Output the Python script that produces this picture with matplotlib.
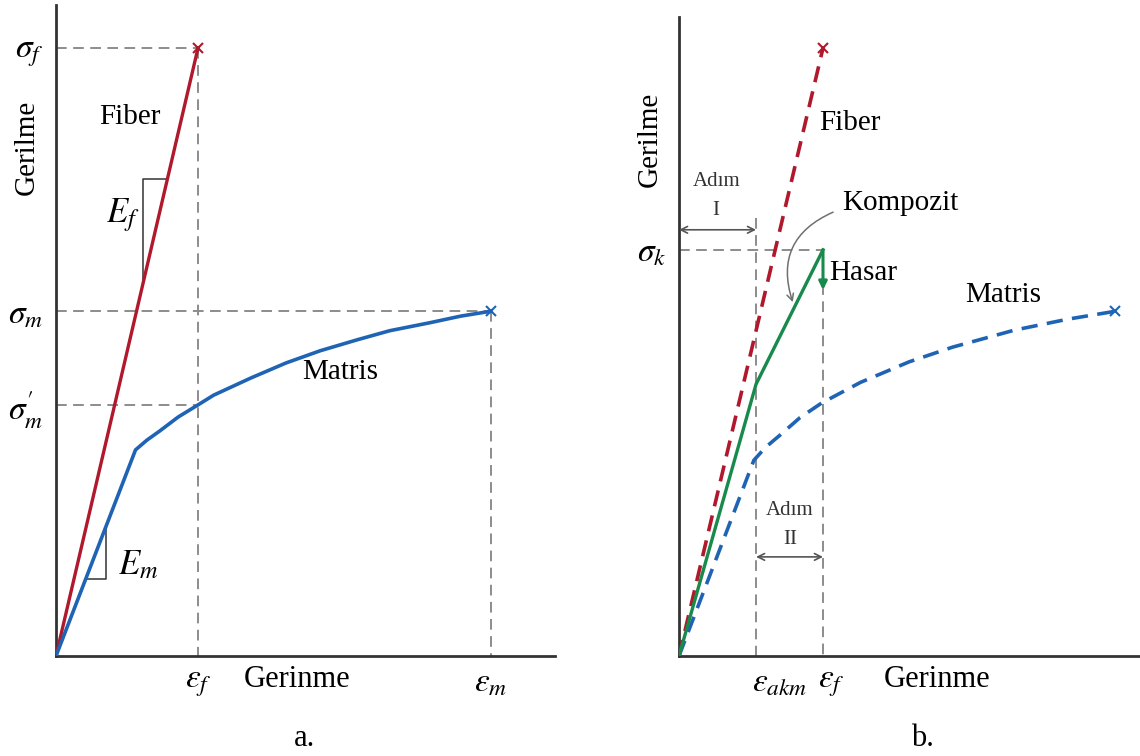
"""
Stress-strain schematic of fiber, matrix and composite (panels a and b).
Saves out.png.
"""
import matplotlib
matplotlib.use("Agg")
import matplotlib.pyplot as plt

plt.rcParams["font.family"] = ["Liberation Serif", "DejaVu Serif"]
plt.rcParams["mathtext.fontset"] = "stix"

# --- panel a data (strain in units of eps_f, stress in units of sigma_f/100)
a_fiber_strain = [0.0, 1.0]
a_fiber_stress = [0.0, 100.0]
a_matrix_strain = [0.0, 0.56, 0.64, 0.73, 0.86, 1.0, 1.11, 1.37, 1.62, 1.86, 2.12, 2.35, 2.63, 2.85, 3.06]
a_matrix_stress = [0.0, 33.9, 35.5, 37.0, 39.3, 41.3, 42.9, 45.7, 48.2, 50.2, 52.0, 53.5, 54.8, 55.9, 56.7]
a_eps_f, a_eps_m = 1.0, 3.06
a_sig_f, a_sig_m, a_sig_m_prime = 100.0, 56.7, 41.3
a_Ef_tri = (0.613, 78.5)   # vertical leg x, top y
a_Em_tri = (0.352, 12.7)   # vertical leg x, bottom y

# --- panel b data
b_fiber_strain = [0.0, 1.0]
b_fiber_stress = [0.0, 100.0]
b_matrix_strain = [0.0, 0.52, 0.60, 0.70, 0.84, 0.99, 1.26, 1.60, 1.90, 2.33, 2.70, 3.03]
b_matrix_stress = [0.0, 32.2, 34.3, 36.3, 39.2, 41.6, 45.0, 48.4, 50.8, 53.6, 55.4, 56.7]
b_comp_strain = [0.0, 0.535, 1.0]
b_comp_stress = [0.0, 44.7, 66.8]
b_eps_akm, b_eps_f = 0.535, 1.0
b_sig_k = 66.8
b_hasar_end = 60.2

RED = "#b0182c"
BLUE = "#1f64b4"
GREEN = "#178a4c"
GRAY = "#8c8c8c"
AXC = "#333333"

FS = 21
W, H = 1140, 756

fig = plt.figure(figsize=(W / 100, H / 100), dpi=100)
axa = fig.add_axes([56 / W, 100 / H, 499 / W, 651 / H])
axb = fig.add_axes([679 / W, 100 / H, 461 / W, 639 / H])
axa.set_xlim(0, 499 / 142)
axa.set_ylim(0, 651 / 6.08)
axb.set_xlim(0, 461 / 144)
axb.set_ylim(0, 639 / 6.08)

for ax in (axa, axb):
    for s in ("top", "right"):
        ax.spines[s].set_visible(False)
    for s in ("left", "bottom"):
        ax.spines[s].set_color(AXC)
        ax.spines[s].set_linewidth(2)
    ax.tick_params(length=0, labelsize=FS + 3, pad=9)
    ax.patch.set_alpha(0)

ref = dict(color=GRAY, lw=1.4, ls=(0, (5.5, 3.3)), zorder=1)

# ---------------- panel a ----------------
axa.plot([0, a_eps_f], [a_sig_f, a_sig_f], **ref)
axa.plot([a_eps_f, a_eps_f], [a_sig_f, 0], **ref)
axa.plot([0, a_eps_m], [a_sig_m, a_sig_m], **ref)
axa.plot([a_eps_m, a_eps_m], [a_sig_m, 0], **ref)
axa.plot([0, a_eps_f], [a_sig_m_prime, a_sig_m_prime], **ref)

axa.plot(a_fiber_strain, a_fiber_stress, color=RED, lw=2.4, zorder=3)
axa.plot(a_fiber_strain[-1], a_fiber_stress[-1], "x", color=RED, ms=7, mew=1.5, zorder=4)
axa.plot(a_matrix_strain, a_matrix_stress, color=BLUE, lw=2.6, zorder=3,
         solid_joinstyle="round")
axa.plot(a_matrix_strain[-1], a_matrix_stress[-1], "x", color=BLUE, ms=7, mew=1.5, zorder=4)

# slope triangles
fslope = a_fiber_stress[1] / a_fiber_strain[1]
tx, ty = a_Ef_tri
axa.plot([tx, tx, ty / fslope], [tx * fslope, ty, ty], color=AXC, lw=1.1, zorder=2)
mslope = a_matrix_stress[1] / a_matrix_strain[1]
mx, my = a_Em_tri
axa.plot([my / mslope, mx, mx], [my, my, mx * mslope], color=AXC, lw=1.1, zorder=2)

axa.set_yticks([a_sig_f, a_sig_m, a_sig_m_prime],
               [r"$\sigma_f$", r"$\sigma_m$", r"$\sigma^{\prime}_{m}$"])
axa.set_xticks([a_eps_f, a_eps_m], [r"$\varepsilon_f$", r"$\varepsilon_m$"])

axa.text(0.52, 88.7, "Fiber", fontsize=FS, ha="center", va="center")
axa.text(2.0, 46.7, "Matris", fontsize=FS, ha="center", va="center")
axa.text(0.47, 72.5, r"$E_f$", fontsize=FS + 4, ha="center", va="center")
axa.text(0.44, 14.8, r"$E_m$", fontsize=FS + 4, ha="left", va="center")
axa.text(-0.205, 83.7, "Gerilme", fontsize=FS, rotation=90, ha="center", va="center")
axa.text(1.70, -3.9, "Gerinme", fontsize=FS + 1, ha="center", va="center")
axa.text(1.75, -13.5, "a.", fontsize=FS + 1, ha="center", va="center")

# ---------------- panel b ----------------
axb.plot([0, b_eps_f], [b_sig_k, b_sig_k], **ref)
axb.plot([b_eps_f, b_eps_f], [b_sig_k, 0], **ref)
axb.plot([b_eps_akm, b_eps_akm], [72.0, 0], **ref)

dash = (0, (4.5, 2.6))
axb.plot(b_fiber_strain, b_fiber_stress, color=RED, lw=2.6, ls=dash, zorder=3)
axb.plot(b_fiber_strain[-1], b_fiber_stress[-1], "x", color=RED, ms=7, mew=1.5, zorder=4)
axb.plot(b_matrix_strain, b_matrix_stress, color=BLUE, lw=2.6, ls=dash, zorder=3)
axb.plot(b_matrix_strain[-1], b_matrix_stress[-1], "x", color=BLUE, ms=7, mew=1.5, zorder=4)
axb.plot(b_comp_strain, b_comp_stress, color=GREEN, lw=2.4, zorder=3)
axb.annotate("", xy=(b_eps_f, b_hasar_end), xytext=(b_eps_f, b_sig_k),
             arrowprops=dict(arrowstyle="-|>", color=GREEN, lw=2.2,
                             mutation_scale=12, shrinkA=0, shrinkB=0), zorder=4)

# step arrows
step = dict(arrowstyle="<->", color="#555555", lw=1.2, mutation_scale=12,
            shrinkA=0, shrinkB=0)
axb.annotate("", xy=(0, 70.1), xytext=(b_eps_akm, 70.1), arrowprops=step)
axb.annotate("", xy=(b_eps_akm, 16.3), xytext=(b_eps_f, 16.3), arrowprops=step)
axb.text(0.264, 78.0, "Adım", fontsize=15, ha="center", va="center", color="#333333")
axb.text(0.257, 73.2, "I", fontsize=15, ha="center", va="center", color="#333333")
axb.text(0.771, 24.0, "Adım", fontsize=15, ha="center", va="center", color="#333333")
axb.text(0.771, 19.2, "II", fontsize=15, ha="center", va="center", color="#333333")

# composite pointer
axb.annotate("", xy=(0.79, 58.2), xytext=(1.07, 73.0),
             arrowprops=dict(arrowstyle="->", color="#707070", lw=1.1,
                             connectionstyle="arc3,rad=0.45", mutation_scale=12,
                             shrinkA=0, shrinkB=0))

axb.set_yticks([b_sig_k], [r"$\sigma_k$"])
axb.set_xticks([])
axb.annotate(r"$\varepsilon_{akm}$", xy=(b_eps_akm, 0), xytext=(17, -9),
             textcoords="offset points", ha="center", va="top", fontsize=FS + 3)
axb.annotate(r"$\varepsilon_f$", xy=(b_eps_f, 0), xytext=(6, -9),
             textcoords="offset points", ha="center", va="top", fontsize=FS + 3)

axb.text(1.19, 87.7, "Fiber", fontsize=FS, ha="center", va="center")
axb.text(1.54, 74.5, "Kompozit", fontsize=FS, ha="center", va="center")
axb.text(1.28, 63.0, "Hasar", fontsize=FS, ha="center", va="center")
axb.text(2.25, 59.4, "Matris", fontsize=FS, ha="center", va="center")
axb.text(-0.20, 84.9, "Gerilme", fontsize=FS, rotation=90, ha="center", va="center")
axb.text(1.79, -3.9, "Gerinme", fontsize=FS + 1, ha="center", va="center")
axb.text(1.69, -13.5, "b.", fontsize=FS + 1, ha="center", va="center")

fig.savefig("out.png", dpi=100, facecolor="white")
